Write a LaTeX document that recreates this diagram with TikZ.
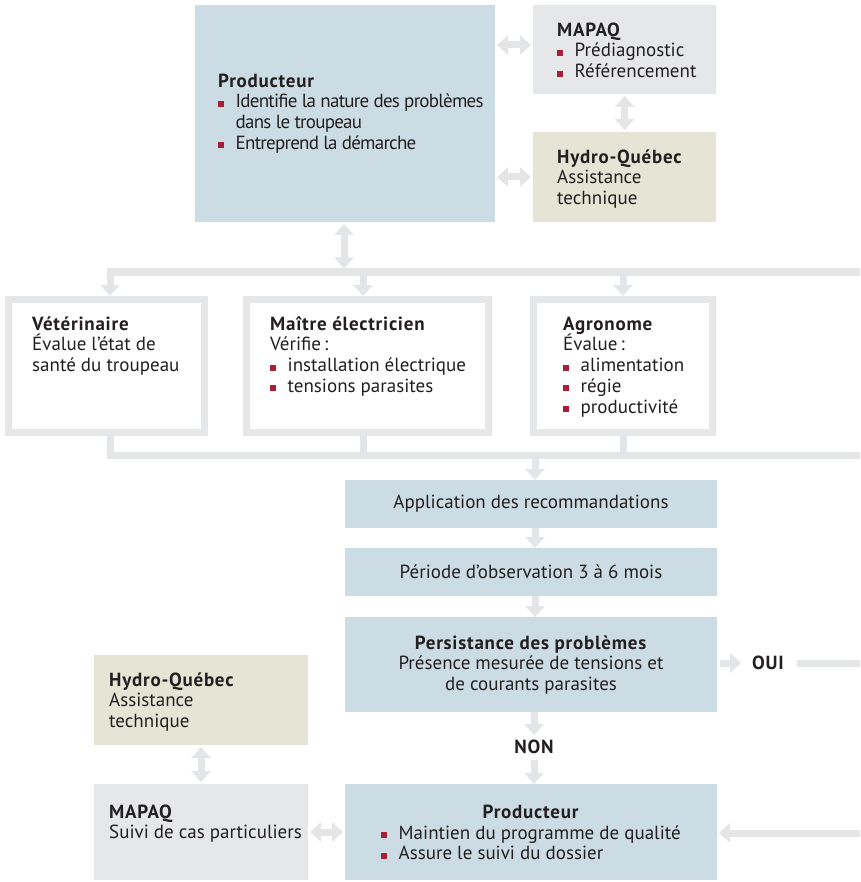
\documentclass[tikz,border=0pt]{standalone}
\usepackage{fontspec}
\setmainfont{PT Sans}[BoldFeatures={LetterSpace=4}]
\usetikzlibrary{arrows.meta,calc}
\definecolor{boxblue}{HTML}{CCDCE4}
\definecolor{boxgray}{HTML}{E6E7E8}
\definecolor{boxbeige}{HTML}{E6E4D5}
\definecolor{lnkgray}{HTML}{E4E5E6}
\definecolor{ink}{HTML}{231F20}
\definecolor{bulred}{HTML}{A81F36}
\newcommand\bul{\makebox[17.5pt][l]{\textcolor{bulred}{\rule[1pt]{6pt}{6pt}}}}
\newcommand\hd[1]{\textbf{#1}}
\newcommand\st{\rule{0pt}{18pt}}
\tikzset{
  bx/.style={rectangle, inner sep=0pt, outer sep=0pt, draw=none},
  frame/.style={rectangle, inner sep=0pt, draw=boxgray, line width=7pt, fill=white, outer sep=3.5pt},
  lnk/.style={draw=lnkgray, line width=7pt},
  one/.style={lnk, -{Triangle[width=19pt,length=11pt]}},
  two/.style={lnk, {Triangle[width=19pt,length=11pt]}-{Triangle[width=19pt,length=11pt]}},
  txt/.style={anchor=north west, inner sep=0pt, align=left, text=ink, font=\fontsize{19}{20.7}\selectfont},
  ctxt/.style={anchor=north, inner sep=0pt, align=center, text=ink, font=\fontsize{19}{20.7}\selectfont},
}
\begin{document}
\begin{tikzpicture}[x=1pt,y=-1pt]
\useasboundingbox (0,0) rectangle (860,882);
% boxes
\node[bx, fill=boxblue, minimum width=300pt, minimum height=217pt] (prod) at (345,113.5) {};
\node[bx, fill=boxgray, minimum width=183pt, minimum height=89pt] (mapaqA) at (624.5,49.5) {};
\node[bx, fill=boxbeige, minimum width=183pt, minimum height=90pt] (hydroA) at (624.5,177) {};
\node[frame, minimum width=196pt, minimum height=133pt] (vet) at (106.5,366) {};
\node[frame, minimum width=242pt, minimum height=133pt] (mait) at (367.5,366) {};
\node[frame, minimum width=179pt, minimum height=133pt] (agro) at (623,366) {};
\node[bx, fill=boxblue, minimum width=372pt, minimum height=48pt] (app) at (531,504) {};
\node[bx, fill=boxblue, minimum width=372pt, minimum height=48pt] (per) at (531,572) {};
\node[bx, fill=boxblue, minimum width=372pt, minimum height=95pt] (pers) at (531,664.5) {};
\node[bx, fill=boxblue, minimum width=372pt, minimum height=96pt] (prodB) at (531,832) {};
\node[bx, fill=boxbeige, minimum width=214pt, minimum height=90pt] (hydroB) at (201,700) {};
\node[bx, fill=boxgray, minimum width=214pt, minimum height=96pt] (mapaqB) at (201,832) {};
% helper coordinates
\coordinate (yA) at (0,45);
\coordinate (xv) at (110,0);
\coordinate (xm) at (363,0);
\coordinate (xa) at (623,0);
\coordinate (xp) at (344,0);
\coordinate (xf) at (535,0);
\coordinate (busT) at (860,272);
\coordinate (busB) at (860,455);
\coordinate (inR) at (860,833);
\coordinate (ouiR) at (860,663);
% texts
\node[txt] (tprod) at (218,69) {\st\hd{Producteur}\\\addfontfeature{LetterSpace=-4}\bul Identifie la nature des problèmes\\\addfontfeature{LetterSpace=-4}\hspace*{17.5pt}dans le troupeau\\\addfontfeature{LetterSpace=-4}\bul Entreprend la démarche};
\node[txt] (tmapaqA) at (557,18) {\st\hd{MAPAQ}\\\bul Prédiagnostic\\\bul Référencement};
\node[txt] (thydroA) at (557,145) {\st\hd{Hydro-Québec}\\Assistance\\technique};
\node[txt] (tvet) at (32,312) {\st\hd{Vétérinaire}\\Évalue l’état de\\santé du troupeau};
\node[txt] (tmait) at (270,312) {\st\hd{Maître électricien}\\Vérifie\,:\\\bul installation électrique\\\bul tensions parasites};
\node[txt] (tagro) at (563,312) {\st\hd{Agronome}\\Évalue\,:\\\bul alimentation\\\bul régie\\\bul productivité};
\node[ctxt] (tapp) at (531,490) {\st Application des recommandations};
\node[ctxt] (tper) at (531,560) {\st Période d’observation 3 à 6 mois};
\node[ctxt] (tpers) at (531,631) {\st\hd{Persistance des problèmes}\\Présence mesurée de tensions et\\de courants parasites};
\node[ctxt] (tprodB) at (531,800) {\st\hd{Producteur}};
\node[txt] (tprodBl) at (381,821) {\st\bul Maintien du programme de qualité\\\bul Assure le suivi du dossier};
\node[txt] (thydroB) at (109,668) {\st\hd{Hydro-Québec}\\Assistance\\technique};
\node[txt] (tmapaqB) at (109,800) {\st\hd{MAPAQ}\\Suivi de cas particuliers};
\node[bx, text=ink, font=\fontsize{19}{20.7}\selectfont\bfseries] (oui) at (768,663) {OUI};
\node[bx, text=ink, font=\fontsize{19}{20.7}\selectfont\bfseries] (non) at (534,747) {NON};
% connectors top
\draw[two, shorten <=2pt, shorten >=2pt] (prod.east |- yA) -- (mapaqA.west |- yA);
\draw[two, shorten <=2pt, shorten >=2pt] (prod.east |- hydroA.west) -- (hydroA.west);
\draw[two, shorten <=2pt, shorten >=2pt] (mapaqA.south) -- (hydroA.north);
\draw[two, shorten <=2pt, shorten >=3.5pt] (prod.south -| xp) -- (busT -| xp);
% top bus
\draw[one] (busT) -| (vet.north -| xv);
\draw[one] (busT -| xm) -- (mait.north -| xm);
\draw[one] (busT -| xa) -- (agro.north -| xa);
% bottom bus
\draw[lnk] (vet.south -| xv) |- (busB);
\draw[lnk] (mait.south -| xm) -- (busB -| xm);
\draw[lnk] (agro.south -| xa) -- (busB -| xa);
\draw[one] (busB -| xf) -- (app.north -| xf);
% flow
\draw[one] (app.south -| xf) -- (per.north -| xf);
\draw[one] (per.south -| xf) -- (pers.north -| xf);
\draw[one, shorten >=5pt] (pers.south -| non) -- (non.north);
\draw[one, shorten <=6pt] (non.south) -- (prodB.north -| non);
\draw[one, shorten <=3pt, shorten >=11pt] (pers.east |- oui) -- (oui.west);
\draw[lnk, shorten <=13pt] (oui.east) -- (ouiR);
\draw[one, shorten >=2pt] (inR) -- (prodB.east |- inR);
% bottom left
\draw[two, shorten <=2pt, shorten >=2pt] (hydroB.south) -- (mapaqB.north);
\draw[two, shorten <=2pt, shorten >=2pt] (mapaqB.east) -- (prodB.west);
\end{tikzpicture}
\end{document}
